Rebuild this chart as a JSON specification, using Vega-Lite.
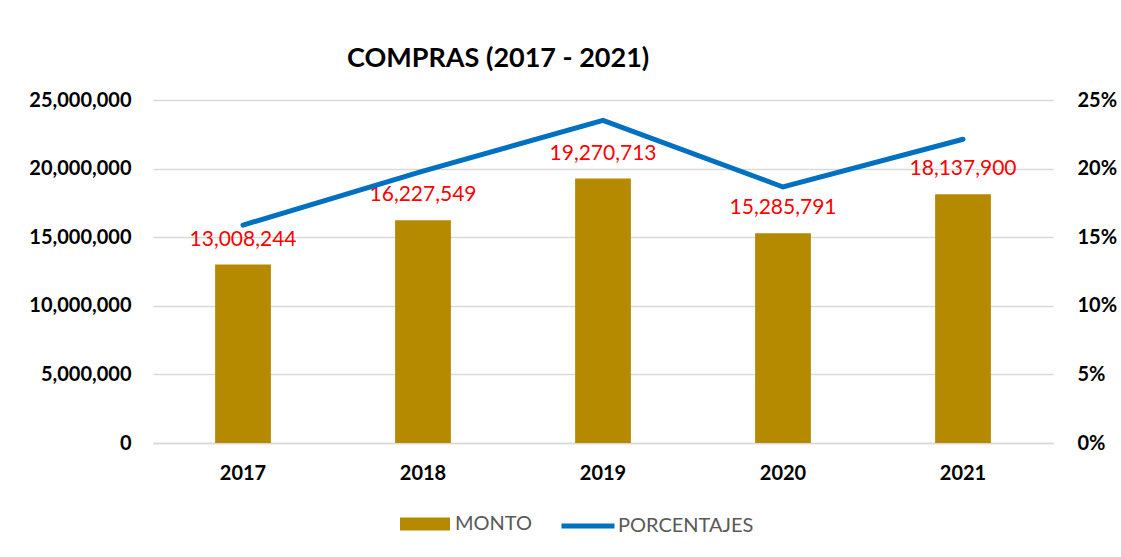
{
  "$schema": "https://vega.github.io/schema/vega-lite/v6.json",
  "width": 900,
  "height": 343,
  "autosize": {"type": "none"},
  "padding": {"left": 153, "top": 100, "right": 68, "bottom": 114},
  "background": "white",
  "config": {
    "view": {"stroke": null},
    "font": "Lato"
  },
  "title": {
    "text": "COMPRAS (2017 - 2021)",
    "anchor": "start",
    "frame": "group",
    "dx": 194,
    "offset": 17,
    "fontSize": 27,
    "fontWeight": "bold",
    "font": "Lato",
    "color": "#000000"
  },
  "data": {
    "values": [
      {"year": "2017", "monto": 13008244, "pct": 0.1588, "s1": "MONTO", "s2": "PORCENTAJES"},
      {"year": "2018", "monto": 16227549, "pct": 0.1981, "s1": "MONTO", "s2": "PORCENTAJES"},
      {"year": "2019", "monto": 19270713, "pct": 0.2352, "s1": "MONTO", "s2": "PORCENTAJES"},
      {"year": "2020", "monto": 15285791, "pct": 0.1866, "s1": "MONTO", "s2": "PORCENTAJES"},
      {"year": "2021", "monto": 18137900, "pct": 0.2214, "s1": "MONTO", "s2": "PORCENTAJES"}
    ]
  },
  "encoding": {
    "x": {
      "field": "year",
      "type": "ordinal",
      "scale": {"paddingInner": 0.69, "paddingOuter": 0.345},
      "axis": {
        "title": null,
        "labelAngle": 0,
        "labelFontSize": 20,
        "labelFontWeight": "bold",
        "labelColor": "#000000",
        "labelPadding": 20,
        "ticks": false,
        "domainColor": "#D9D9D9",
        "domainWidth": 1.5
      }
    }
  },
  "layer": [
    {
      "layer": [
        {
          "mark": {"type": "bar"},
          "encoding": {
            "y": {
              "field": "monto",
              "type": "quantitative",
              "scale": {"domain": [0, 25000000], "nice": false},
              "axis": {
                "title": null,
                "values": [0, 5000000, 10000000, 15000000, 20000000, 25000000],
                "format": ",.0f",
                "labelFontSize": 20,
                "labelFontWeight": "bold",
                "labelColor": "#000000",
                "labelPadding": 22,
                "ticks": false,
                "domain": false,
                "gridColor": "#D9D9D9",
                "gridWidth": 1.5
              }
            },
            "fill": {
              "field": "s1",
              "type": "nominal",
              "scale": {"range": ["#B58A00"]},
              "legend": {
                "title": null,
                "orient": "none",
                "legendX": 247,
                "legendY": 399,
                "padding": 0,
                "symbolType": "M-1,-0.26L1,-0.26L1,0.26L-1,0.26Z",
                "symbolSize": 2500,
                "symbolStrokeWidth": 0,
                "labelFontSize": 20,
                "labelColor": "#595959",
                "labelFont": "Lato",
                "labelOffset": 5
              }
            }
          }
        },
        {
          "mark": {"type": "text", "dy": -25, "fontSize": 21, "color": "#FF0000", "baseline": "middle"},
          "encoding": {
            "y": {"field": "monto", "type": "quantitative"},
            "text": {"field": "monto", "type": "quantitative", "format": ",.0f"}
          }
        }
      ]
    },
    {
      "mark": {"type": "line", "strokeWidth": 5, "strokeCap": "round", "strokeJoin": "miter"},
      "encoding": {
        "y": {
          "field": "pct",
          "type": "quantitative",
          "scale": {"domain": [0, 0.25], "nice": false},
          "axis": {
            "title": null,
            "orient": "right",
            "values": [0, 0.05, 0.1, 0.15, 0.2, 0.25],
            "format": ".0%",
            "labelFontSize": 20,
            "labelFontWeight": "bold",
            "labelColor": "#000000",
            "labelPadding": 24,
            "ticks": false,
            "domain": false,
            "grid": false
          }
        },
        "stroke": {
          "field": "s2",
          "type": "nominal",
          "scale": {"range": ["#0070C0"]},
          "legend": {
            "title": null,
            "orient": "none",
            "legendX": 406,
            "legendY": 397,
            "padding": 0,
            "symbolType": "stroke",
            "symbolSize": 2809,
            "symbolStrokeWidth": 5,
            "labelFontSize": 20,
            "labelColor": "#595959",
            "labelFont": "Lato",
            "labelOffset": 1
          }
        }
      }
    }
  ],
  "resolve": {"scale": {"y": "independent", "fill": "independent", "stroke": "independent"}}
}
